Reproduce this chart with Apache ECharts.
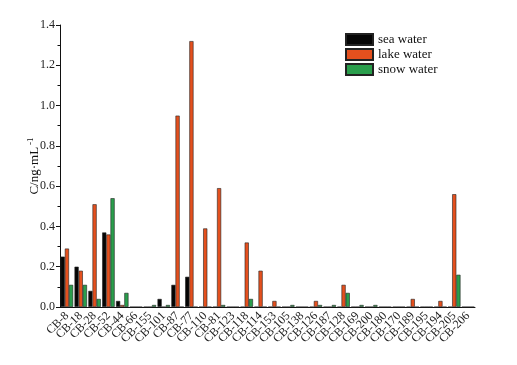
<!DOCTYPE html>
<html>
<head>
<meta charset="utf-8">
<script src="https://cdn.jsdelivr.net/npm/echarts@6/dist/echarts.min.js"></script>
<style>
html, body { margin: 0; padding: 0; background: #fff; }
#main { width: 517px; height: 365px; }
</style>
</head>
<body>
<div id="main"></div>
<script>
var categories = ['CB-8', 'CB-18', 'CB-28', 'CB-52', 'CB-44', 'CB-66', 'CB-155', 'CB-101', 'CB-87', 'CB-77',
    'CB-110', 'CB-81', 'CB-123', 'CB-118', 'CB-114', 'CB-153', 'CB-105', 'CB-138', 'CB-126', 'CB-187',
    'CB-128', 'CB-169', 'CB-200', 'CB-180', 'CB-170', 'CB-189', 'CB-195', 'CB-194', 'CB-205', 'CB-206'];
var seaWater = [0.25, 0.20, 0.08, 0.37, 0.03, 0, 0, 0.04, 0.11, 0.15,
    0, 0, 0, 0, 0, 0, 0, 0, 0, 0,
    0, 0, 0, 0, 0, 0, 0, 0, 0, 0];
var lakeWater = [0.29, 0.18, 0.51, 0.36, 0.01, 0, 0, 0, 0.95, 1.32,
    0.39, 0.59, 0, 0.32, 0.18, 0.03, 0, 0, 0.03, 0,
    0.11, 0, 0, 0, 0, 0.04, 0, 0.03, 0.56, 0];
var snowWater = [0.11, 0.11, 0.04, 0.54, 0.07, 0, 0.01, 0.01, 0, 0,
    0, 0.01, 0, 0.04, 0, 0, 0.01, 0, 0.01, 0.01,
    0.07, 0.01, 0.01, 0, 0, 0, 0, 0, 0.16, 0];
var yTicks = { min: 0, max: 1.4, interval: 0.2 };

var font = 'Liberation Serif';
var chart = echarts.init(document.getElementById('main'));

var barSeries = function(name, data, color) {
    return {
        name: name,
        type: 'bar',
        barWidth: '30%',
        barGap: '0%',
        data: data,
        itemStyle: {
            color: color,
            borderColor: '#222',
            borderWidth: 0.6
        }
    };
};

chart.setOption({
    animation: false,
    textStyle: { fontFamily: font },
    legend: {
        left: 340,
        top: 28,
        orient: 'vertical',
        itemWidth: 27,
        itemHeight: 11,
        itemGap: 2,
        icon: 'rect',
        textStyle: { fontFamily: font, fontSize: 13, color: '#111', padding: [0, 0, 0, 0] },
        data: ['sea water', 'lake water', 'snow water']
    },
    grid: { left: 60, right: 42, top: 25, bottom: 58 },
    xAxis: [{
        type: 'category',
        data: categories,
        axisLine: { lineStyle: { color: '#111', width: 1 } },
        axisTick: { alignWithLabel: true, length: 5, lineStyle: { color: '#111' } },
        axisLabel: {
            interval: 0,
            rotate: 45,
            margin: 7,
            fontSize: 12,
            color: '#222',
            fontFamily: font
        }
    }, {
        // minor ticks at category boundaries
        type: 'category',
        data: categories,
        position: 'bottom',
        axisLine: { show: false },
        axisTick: { length: 3, interval: 0, lineStyle: { color: '#111' } },
        axisLabel: { show: false }
    }],
    yAxis: {
        type: 'value',
        min: yTicks.min,
        max: yTicks.max,
        interval: yTicks.interval,
        name: '{a|C/ng·mL}{b|-1}',
        nameLocation: 'middle',
        nameGap: 17,
        nameMoveOverlap: false,
        nameTextStyle: {
            rich: {
                a: { fontFamily: font, fontSize: 13, color: '#111' },
                b: { fontFamily: font, fontSize: 9, color: '#111', verticalAlign: 'top', padding: [0, 0, 8, 2] }
            }
        },
        axisLine: { show: true, lineStyle: { color: '#111', width: 1 } },
        axisTick: { show: true, length: 4, lineStyle: { color: '#111' } },
        minorTick: { show: true, splitNumber: 2, length: 2.5, lineStyle: { color: '#111' } },
        splitLine: { show: false },
        axisLabel: {
            fontSize: 12,
            color: '#222',
            fontFamily: font,
            margin: 5,
            formatter: function(v) { return v.toFixed(1); }
        }
    },
    series: [
        barSeries('sea water', seaWater, '#050505'),
        barSeries('lake water', lakeWater, '#e4501e'),
        barSeries('snow water', snowWater, '#2a9e4c')
    ]
});
</script>
</body>
</html>
